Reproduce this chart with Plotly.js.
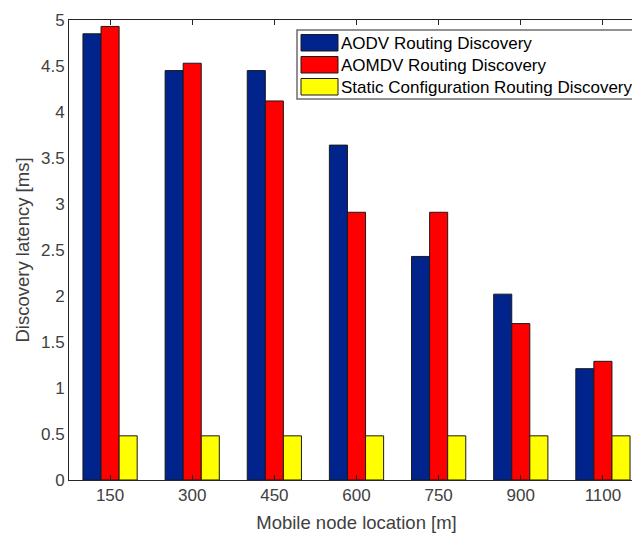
<!DOCTYPE html>
<html>
<head>
<meta charset="utf-8">
<script src="https://cdn.plot.ly/plotly-3.0.1.min.js"></script>
<style>
html, body { margin: 0; padding: 0; overflow: hidden; background: #fff; }
#chart { width: 660px; height: 534px; }
</style>
</head>
<body>
<div id="chart"></div>
<script>
const locations = ['150', '300', '450', '600', '750', '900', '1100'];
const seriesNames = ['AODV Routing Discovery', 'AOMDV Routing Discovery', 'Static Configuration Routing Discovery'];
const aodv   = [4.85, 4.45, 4.45, 3.64, 2.43, 2.02, 1.21];
const aomdv  = [4.93, 4.53, 4.12, 2.91, 2.91, 1.70, 1.29];
const staticCfg = [0.48, 0.48, 0.48, 0.48, 0.48, 0.48, 0.48];
const colors = ['#00238c', '#ff0000', '#ffff00'];

const seriesValues = [aodv, aomdv, staticCfg];
const traces = seriesValues.map((vals, i) => ({
  type: 'bar',
  x: locations,
  y: vals,
  name: seriesNames[i],
  marker: { color: colors[i], line: { color: '#1a1a1a', width: 1 } },
  hoverinfo: 'x+y+name'
}));

// custom legend (MATLAB-style swatches)
const plotL = 69, plotT = 20, plotW = 575, plotH = 460;
const px = v => (v - plotL) / plotW;
const py = v => (plotT + plotH - v) / plotH;
const shapes = [{
  type: 'rect', xref: 'paper', yref: 'paper',
  x0: px(297), x1: px(660), y0: py(99), y1: py(30),
  line: { color: '#6e6e6e', width: 1.5 }, fillcolor: '#ffffff', layer: 'above'
}];
const annotations = [];
const swTop = [34.5, 56.5, 78.5];
seriesNames.forEach((nm, i) => {
  shapes.push({
    type: 'rect', xref: 'paper', yref: 'paper',
    x0: px(301), x1: px(338), y0: py(swTop[i] + 16.5), y1: py(swTop[i]),
    fillcolor: colors[i], line: { color: '#1a1a1a', width: 1 }, layer: 'above'
  });
  annotations.push({
    xref: 'paper', yref: 'paper', x: px(339), y: py(swTop[i] + 8.5),
    xanchor: 'left', yanchor: 'middle', showarrow: false, text: nm,
    font: { family: 'Liberation Sans, Arial, sans-serif', size: 17, color: '#000' }
  });
});

const layout = {
  width: 660, height: 534,
  margin: { l: plotL, r: 660 - plotL - plotW, t: plotT, b: 534 - plotT - plotH },
  paper_bgcolor: '#ffffff', plot_bgcolor: '#ffffff',
  font: { family: 'Liberation Sans, Arial, sans-serif', color: '#404040' },
  barmode: 'group', bargap: 0.34, bargroupgap: 0,
  showlegend: false,
  xaxis: {
    type: 'category', range: [-0.5, 6.5],
    showline: true, linecolor: '#262626', linewidth: 1, mirror: 'ticks',
    ticks: 'inside', ticklen: 5, tickcolor: '#262626',
    showgrid: false, zeroline: false,
    tickfont: { size: 17, color: '#404040' },
    title: { text: 'Mobile node location [m]', font: { size: 18.5, color: '#404040' }, standoff: 11 }
  },
  yaxis: {
    range: [0, 5], dtick: 0.5, tick0: 0,
    showline: true, linecolor: '#262626', linewidth: 1, mirror: true,
    ticks: '', showgrid: false, zeroline: false,
    tickfont: { size: 17, color: '#404040' },
    title: { text: 'Discovery latency [ms]', font: { size: 18.5, color: '#404040' }, standoff: 6 }
  },
  shapes: shapes,
  annotations: annotations
};

Plotly.newPlot('chart', traces, layout, { displayModeBar: false, staticPlot: true });
</script>
</body>
</html>
